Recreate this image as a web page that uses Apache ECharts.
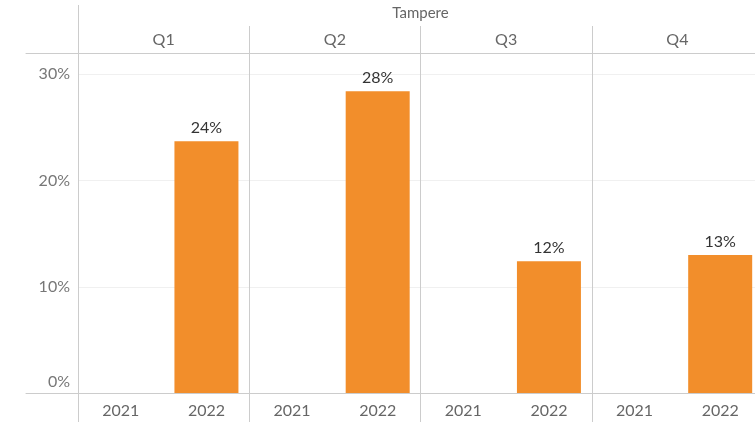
<!DOCTYPE html>
<html>
<head>
<meta charset="utf-8">
<script src="https://cdn.jsdelivr.net/npm/echarts@6/dist/echarts.min.js"></script>
<style>
  html, body { margin: 0; padding: 0; background: #fff; overflow: hidden; }
  /* the last panel runs past the right edge, so the canvas is a bit wider than the window */
  #chart { width: 763px; height: 425px; }
</style>
</head>
<body>
<div id="chart"></div>
<script>
const region = 'Tampere';
const quarters = ['Q1', 'Q2', 'Q3', 'Q4'];
const years = ['2021', '2022'];
// share per quarter, % (2021 has no values)
const values2021 = [null, null, null, null];
const values2022 = [23.7, 28.4, 12.4, 13.0];
const yTicks = [0, 10, 20, 30];

const FONT = 'Lato';
const LINE = '#cccccc';

// flatten quarter x year into one category axis
const yearCats = [];
const barData = [];
quarters.forEach((q, i) => {
  years.forEach(y => yearCats.push(y));
  barData.push(values2021[i], values2022[i]);
});

const chart = echarts.init(document.getElementById('chart'), null, { renderer: 'canvas' });

const option = {
  animation: false,
  textStyle: { fontFamily: FONT },
  grid: [
    { left: 78, right: 0, top: 53, bottom: 32 },
    // header column on the left, only carries the two horizontal rules
    { left: 26, width: 52, top: 53, bottom: 32 }
  ],
  xAxis: [
    {
      type: 'category', gridIndex: 0, position: 'bottom', data: yearCats,
      axisLine: { lineStyle: { color: LINE } },
      axisTick: { show: true, length: 29, interval: (i) => i % 2 === 0, lineStyle: { color: LINE } },
      axisLabel: { interval: 0, margin: 10, fontSize: 16, color: '#666', fontFamily: FONT },
      splitLine: { show: false }
    },
    {
      type: 'category', gridIndex: 0, position: 'top', data: quarters,
      axisLine: { show: true, lineStyle: { color: LINE } },
      axisTick: { show: true, length: 27, lineStyle: { color: LINE } },
      axisLabel: { interval: 0, margin: 5, fontSize: 16, color: '#666', fontFamily: FONT },
      splitLine: { show: true, lineStyle: { color: LINE } }
    },
    {
      type: 'category', gridIndex: 0, position: 'top', offset: 27, data: [region],
      axisLine: { show: false },
      axisTick: { show: true, length: 21, lineStyle: { color: LINE } },
      axisLabel: { margin: 5, fontSize: 15, color: '#666', fontFamily: FONT },
      splitLine: { show: false }
    },
    {
      type: 'category', gridIndex: 1, position: 'bottom', data: [''],
      axisLine: { lineStyle: { color: LINE } }, axisTick: { show: false }, axisLabel: { show: false }
    },
    {
      type: 'category', gridIndex: 1, position: 'top', data: [''],
      axisLine: { lineStyle: { color: LINE } }, axisTick: { show: false }, axisLabel: { show: false }
    }
  ],
  yAxis: [
    {
      type: 'value', gridIndex: 0, min: yTicks[0], max: 32, interval: 10,
      axisLine: { show: true, lineStyle: { color: LINE } },
      axisTick: { show: false },
      axisLabel: {
        showMaxLabel: false, margin: 8, fontSize: 16, color: '#777', fontFamily: FONT,
        formatter: (v) => v === 0 ? '{z|0%}' : v + '%',
        rich: { z: { fontSize: 16, color: '#777', fontFamily: FONT, padding: [0, 0, 23, 0] } }
      },
      splitLine: { lineStyle: { color: '#f0f0f0' } }
    },
    { type: 'value', gridIndex: 1, show: false }
  ],
  series: [
    {
      type: 'bar', xAxisIndex: 0, yAxisIndex: 0,
      data: barData,
      barWidth: 64,
      itemStyle: { color: '#f28e2b' },
      label: {
        show: true, position: 'top', distance: 5,
        fontSize: 16, color: '#333', fontFamily: FONT,
        formatter: (p) => Math.round(p.value) + '%'
      }
    }
  ]
};

chart.setOption(option);
</script>
</body>
</html>
